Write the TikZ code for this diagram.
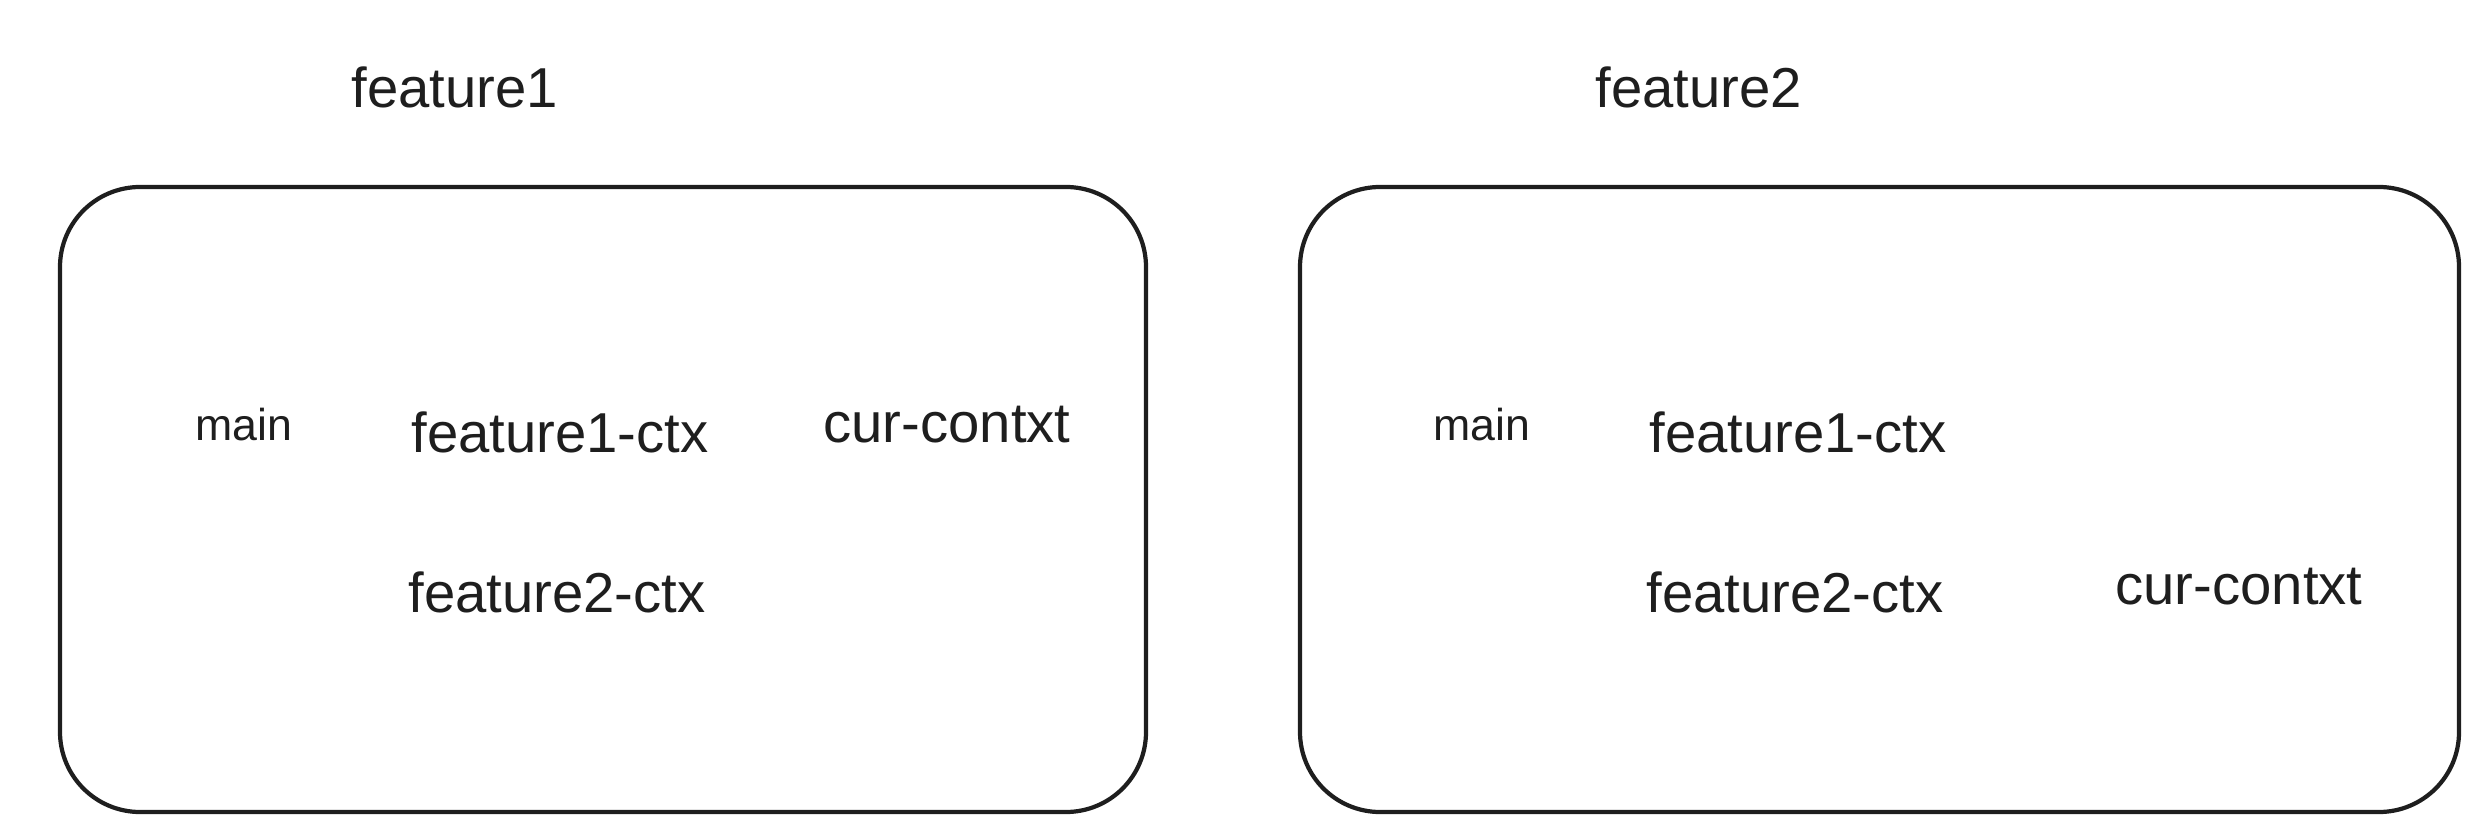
\documentclass[tikz,border=0pt]{standalone}
\usepackage{fontspec}
\setmainfont{Liberation Sans}
\usepackage{tikz}
\definecolor{ink}{HTML}{1E1E1E}

\begin{document}
\begin{tikzpicture}[x=0.01cm, y=-0.01cm,
  frame/.style={draw=ink, line width=1.2pt, rounded corners=0.8cm},
  lbl/.style={text=ink, font=\fontsize{16}{19}\selectfont, inner sep=0pt},
  small/.style={text=ink, font=\fontsize{12.7}{15}\selectfont, inner sep=0pt}]
  \useasboundingbox (0,0) rectangle (2488,840);
  % feature1
  \node[lbl] (title1) at (455, 87) {feature1};
  \draw[frame] (60,187) rectangle (1146,812);
  \node[small] (main1) at (244, 425) {main};
  \node[lbl] (fonectx1) at (560, 432) {feature1-ctx};
  \node[lbl] (cur1) at (947, 425) {cur-contxt};
  \node[lbl] (ftwoctx1) at (557, 592) {feature2-ctx};
  % feature2
  \node[lbl] (title2) at (1699, 87) {feature2};
  \draw[frame] (1300,187) rectangle (2459,812);
  \node[small] (main2) at (1482, 425) {main};
  \node[lbl] (fonectx2) at (1798, 432) {feature1-ctx};
  \node[lbl] (ftwoctx2) at (1795, 592) {feature2-ctx};
  \node[lbl] (cur2) at (2239, 587) {cur-contxt};
\end{tikzpicture}
\end{document}
